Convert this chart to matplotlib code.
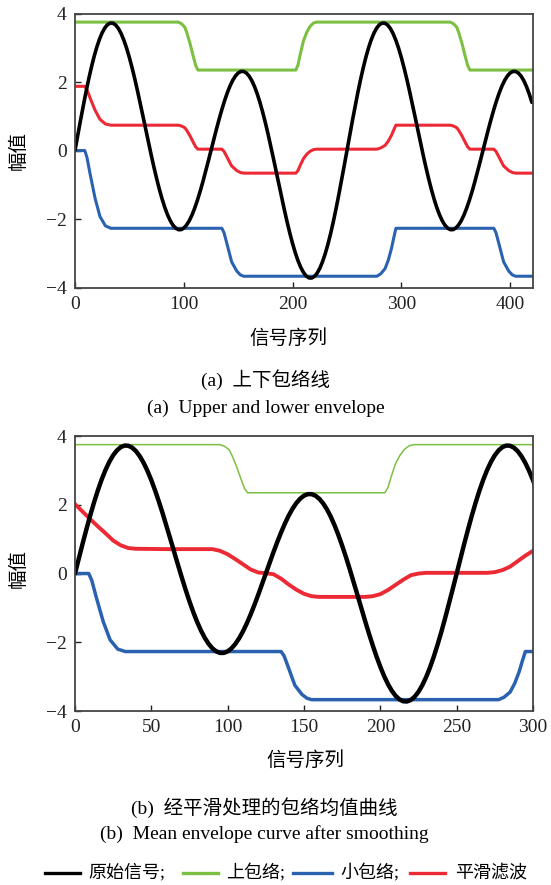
import numpy as np
import matplotlib
matplotlib.use("Agg")
import matplotlib.pyplot as plt
from matplotlib.lines import Line2D

# ---- data ----
# original signal, one value every 2.5 samples; the wave repeats every 250 samples
sig_a = [0.0, 0.439, 0.871, 1.291, 1.694, 2.072, 2.422, 2.738, 3.015, 3.250,
         3.441, 3.584, 3.679, 3.723, 3.717, 3.662, 3.559, 3.409, 3.216, 2.984,
         2.715, 2.414, 2.087, 1.738, 1.374, 1.0, 0.622, 0.246, -0.122, -0.477,
         -0.812, -1.124, -1.407, -1.657, -1.870, -2.044, -2.177, -2.265, -2.310, -2.310,
         -2.265, -2.178, -2.051, -1.886, -1.686, -1.454, -1.196, -0.917, -0.621, -0.313, 0.0]
sig_b = [0.313, 0.621, 0.917, 1.196, 1.454, 1.686, 1.886, 2.051, 2.178, 2.265,
         2.310, 2.309, 2.265, 2.176, 2.044, 1.870, 1.657, 1.407, 1.124, 0.812,
         0.477, 0.122, -0.246, -0.622, -1.0, -1.374, -1.738, -2.086, -2.414, -2.714,
         -2.984, -3.217, -3.409, -3.558, -3.662, -3.718, -3.723, -3.679, -3.584, -3.441,
         -3.250, -3.015, -2.738, -2.422, -2.072, -1.694, -1.291, -0.871, -0.439, 0.0]
sig_v = sig_a + sig_b + sig_a[1:] + sig_b[:18]
sig_t = np.arange(len(sig_v)) * 2.5

# upper envelope
green_t = [0, 95, 98, 101, 103, 105.7, 108.8, 111, 113, 203, 205, 207, 210, 213, 216, 219, 222,
           345, 348, 351, 353, 355.7, 358.8, 361, 363, 421]
green_v = [3.75, 3.75, 3.7, 3.6, 3.42, 3.13, 2.74, 2.48, 2.35, 2.35, 2.5, 2.8, 3.2, 3.45, 3.62, 3.72, 3.75,
           3.75, 3.7, 3.6, 3.42, 3.13, 2.74, 2.48, 2.35, 2.35]

# lower envelope
blue_t = [0, 9, 11, 14, 18.5, 23, 28, 33, 135, 137, 139.5, 144, 148.7, 152, 155,
          277.5, 281, 285, 288, 291, 293, 295, 385, 387, 389.5, 394, 398.7, 402, 405, 421]
blue_v = [0, 0, -0.2, -0.7, -1.4, -1.93, -2.2, -2.27, -2.27, -2.4, -2.7, -3.25, -3.52, -3.63, -3.67,
          -3.67, -3.6, -3.45, -3.2, -2.85, -2.55, -2.27, -2.27, -2.4, -2.7, -3.25, -3.52, -3.63, -3.67, -3.67]

# mean envelope (a)
red_t = [0, 9, 11, 14, 18.5, 23, 28, 33, 95, 98, 101, 103, 105.7, 108.8, 111, 113,
         135, 137, 139.5, 144, 148.7, 152, 155, 203, 205, 207, 210, 213, 216, 219, 222,
         277.5, 281, 285, 288, 291, 293, 295, 345, 348, 351, 353, 355.7, 358.8, 361, 363,
         385, 387, 389.5, 394, 398.7, 402, 405, 421]
red_v = [1.875, 1.875, 1.775, 1.525, 1.175, 0.91, 0.775, 0.74, 0.74, 0.715, 0.665, 0.575, 0.43, 0.235, 0.105, 0.04,
         0.04, -0.025, -0.175, -0.45, -0.585, -0.64, -0.66, -0.66, -0.585, -0.435, -0.235, -0.11, -0.025, 0.025, 0.04,
         0.04, 0.075, 0.15, 0.275, 0.45, 0.6, 0.74, 0.74, 0.715, 0.665, 0.575, 0.43, 0.235, 0.105, 0.04,
         0.04, -0.025, -0.175, -0.45, -0.585, -0.64, -0.66, -0.66]

# smoothed mean envelope (b)
smooth_t = [0, 5, 10, 15, 20, 25, 30, 35, 40, 60, 80, 90, 95, 100, 105, 110, 115, 120, 125, 130,
            135, 140, 145, 150, 155, 160, 190, 195, 200, 205, 210, 215, 220, 225, 230, 270,
            275, 280, 285, 290, 295, 300]
smooth_v = [2.02, 1.8, 1.58, 1.37, 1.17, 0.96, 0.82, 0.74, 0.72, 0.71, 0.71, 0.71, 0.66, 0.56, 0.42, 0.27,
            0.12, 0.03, 0.01, -0.02, -0.15, -0.32, -0.47, -0.59, -0.66, -0.68, -0.68, -0.66, -0.6, -0.48,
            -0.33, -0.18, -0.05, 0.0, 0.02, 0.02, 0.04, 0.1, 0.2, 0.36, 0.52, 0.66]

legend_labels = ["原始信号;", "上包络;", "小包络;", "平滑滤波"]

C_BLACK = "black"
C_GREEN = "#7bc043"
C_BLUE = "#2a62b0"
C_RED = "#ec2a35"

SERIF = ["Liberation Serif", "Noto Sans CJK SC"]
CJK = ["Noto Sans CJK SC", "DejaVu Sans"]

fig = plt.figure(figsize=(5.51, 8.85), dpi=100)

def style(ax, xlim, xticks):
    ax.set_xlim(*xlim)
    ax.set_ylim(-4, 4)
    ax.set_xticks(xticks)
    ax.set_yticks([-4, -2, 0, 2, 4])
    ax.tick_params(direction="in", length=4, width=1, top=False, right=False,
                   labelsize=14, pad=6, colors="#222222")
    for lab in ax.get_xticklabels() + ax.get_yticklabels():
        lab.set_fontfamily("Liberation Serif")
    for s in ax.spines.values():
        s.set_color("#444444")
        s.set_linewidth(1.3)

kw = dict(solid_joinstyle="round", solid_capstyle="round")

# (a)
ax1 = fig.add_axes([0.1361, 0.6751, 0.8312, 0.3096])
ax1.plot(green_t, green_v, color=C_GREEN, lw=2.2, **kw)
ax1.plot(red_t, red_v, color=C_RED, lw=2.2, **kw)
ax1.plot(blue_t, blue_v, color=C_BLUE, lw=2.2, **kw)
ax1.plot(sig_t, sig_v, color=C_BLACK, lw=2.6, **kw)
style(ax1, (0, 421), [0, 100, 200, 300, 400])

# (b)
ax2 = fig.add_axes([0.1361, 0.1966, 0.8312, 0.3107])
ax2.plot(green_t, green_v, color=C_GREEN, lw=1.1, **kw)
ax2.plot(smooth_t, smooth_v, color=C_RED, lw=2.8, **kw)
ax2.plot(blue_t, blue_v, color=C_BLUE, lw=2.5, **kw)
ax2.plot(sig_t, sig_v, color=C_BLACK, lw=3.2, **kw)
style(ax2, (0, 300), [0, 50, 100, 150, 200, 250, 300])

# labels and captions
fig.text(0.033, 1 - 150 / 885, "幅值", rotation=90, ha="center", va="center", fontsize=14, family=CJK)
fig.text(0.033, 1 - 568 / 885, "幅值", rotation=90, ha="center", va="center", fontsize=14, family=CJK)
fig.text(0.523, 1 - 338 / 885, "信号序列", ha="center", va="center", fontsize=14, family=CJK)
fig.text(0.555, 1 - 760 / 885, "信号序列", ha="center", va="center", fontsize=14, family=CJK)

fig.text(0.482, 1 - 380 / 885, "(a)  上下包络线", ha="center", va="center", fontsize=14, family=SERIF)
fig.text(0.482, 1 - 408 / 885, "(a)  Upper and lower envelope", ha="center", va="center", fontsize=14, family=SERIF)
fig.text(0.48, 1 - 808 / 885, "(b)  经平滑处理的包络均值曲线", ha="center", va="center", fontsize=14, family=SERIF)
fig.text(0.48, 1 - 834 / 885, "(b)  Mean envelope curve after smoothing", ha="center", va="center", fontsize=14, family=SERIF)

# legend row along the bottom
ly = 1 - 873 / 885
line_x = [(45, 80), (183, 218), (293, 332), (410, 445)]
text_x = [88, 226, 340, 455]
colors = [C_BLACK, C_GREEN, C_BLUE, C_RED]
for (x0, x1), tx, c, lab in zip(line_x, text_x, colors, legend_labels):
    fig.add_artist(Line2D([x0 / 551, x1 / 551], [ly, ly], color=c, lw=2.4, transform=fig.transFigure))
    fig.text(tx / 551, ly, lab, ha="left", va="center", fontsize=13, family=SERIF)

fig.savefig("out.png", dpi=100)
